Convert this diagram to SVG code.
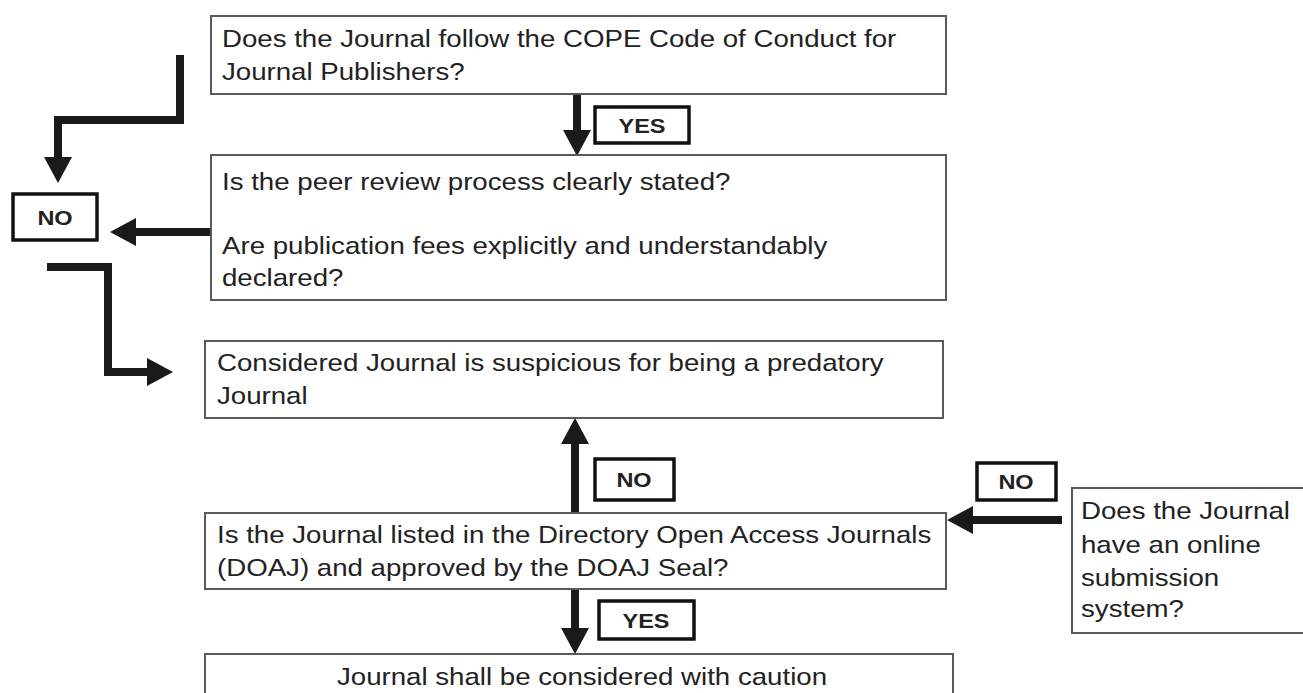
<svg xmlns="http://www.w3.org/2000/svg" width="1303" height="693" viewBox="0 0 1303 693">
<defs>
<style>
.box{fill:#fff;stroke:#5a5a5a;stroke-width:2}
.t{font-family:"Liberation Sans",Arial,sans-serif;font-size:24px;fill:#222}
.lbl{fill:#fff;stroke:#111;stroke-width:3.5}
.lt{font-family:"Liberation Sans",Arial,sans-serif;font-size:21px;font-weight:bold;fill:#222;text-anchor:middle}
.c{fill:none;stroke:#1a1a1a;stroke-width:8;stroke-linejoin:miter;marker-end:url(#ah)}
</style>
<marker id="ah" markerUnits="userSpaceOnUse" markerWidth="26" markerHeight="28" refX="0" refY="14" orient="auto" overflow="visible">
<path d="M0,0 L26,14 L0,28 z" fill="#1a1a1a"/>
</marker>
</defs>
<rect width="1303" height="693" fill="#fff"/>
<g id="connectors">
<path class="c" d="M577,94 V130"/>
<path class="c" d="M180,55 V120 H58 V157"/>
<path class="c" d="M211,232 H136"/>
<path class="c" d="M47,267 H108 V372 H147"/>
<path class="c" d="M575,513 V444"/>
<path class="c" d="M575,589 V628"/>
<path class="c" d="M1062,520 H973"/>
</g>
<g id="node-cope">
<rect class="box" x="211" y="16" width="735" height="78"/>
<text class="t" transform="translate(222,47) scale(1.152,1)">Does the Journal follow the COPE Code of Conduct for</text>
<text class="t" transform="translate(222,80) scale(1.152,1)">Journal Publishers?</text>
</g>
<g id="node-peer">
<rect class="box" x="211" y="155" width="735" height="145"/>
<text class="t" transform="translate(222,190) scale(1.152,1)">Is the peer review process clearly stated?</text>
<text class="t" transform="translate(222,254) scale(1.152,1)">Are publication fees explicitly and understandably</text>
<text class="t" transform="translate(222,286) scale(1.152,1)">declared?</text>
</g>
<g id="node-suspicious">
<rect class="box" x="205" y="341" width="738" height="77"/>
<text class="t" transform="translate(217,371) scale(1.152,1)">Considered Journal is suspicious for being a predatory</text>
<text class="t" transform="translate(217,404) scale(1.152,1)">Journal</text>
</g>
<g id="node-doaj">
<rect class="box" x="205" y="513" width="741" height="76"/>
<text class="t" transform="translate(217,543) scale(1.152,1)">Is the Journal listed in the Directory Open Access Journals</text>
<text class="t" transform="translate(217,576) scale(1.152,1)">(DOAJ) and approved by the DOAJ Seal?</text>
</g>
<g id="node-caution">
<rect class="box" x="205" y="654" width="748" height="50"/>
<text class="t" transform="translate(582,685) scale(1.152,1)" text-anchor="middle">Journal shall be considered with caution</text>
</g>
<g id="node-online">
<rect class="box" x="1072" y="488" width="240" height="145"/>
<text class="t" transform="translate(1081,519) scale(1.152,1)">Does the Journal</text>
<text class="t" transform="translate(1081,553) scale(1.152,1)">have an online</text>
<text class="t" transform="translate(1081,586) scale(1.152,1)">submission</text>
<text class="t" transform="translate(1081,617) scale(1.152,1)">system?</text>
</g>
<g id="label-yes-top">
<rect class="lbl" x="595" y="107" width="94" height="36"/>
<text class="lt" transform="translate(642,133) scale(1.12,1)">YES</text>
</g>
<g id="label-no-left">
<rect class="lbl" x="13" y="194" width="84" height="46"/>
<text class="lt" transform="translate(55,225) scale(1.12,1)">NO</text>
</g>
<g id="label-no-mid">
<rect class="lbl" x="595" y="459" width="79" height="41"/>
<text class="lt" transform="translate(634,487) scale(1.12,1)">NO</text>
</g>
<g id="label-no-right">
<rect class="lbl" x="977" y="463" width="79" height="37"/>
<text class="lt" transform="translate(1016,489) scale(1.12,1)">NO</text>
</g>
<g id="label-yes-bottom">
<rect class="lbl" x="599" y="601" width="95" height="38"/>
<text class="lt" transform="translate(646,628) scale(1.12,1)">YES</text>
</g>
</svg>
